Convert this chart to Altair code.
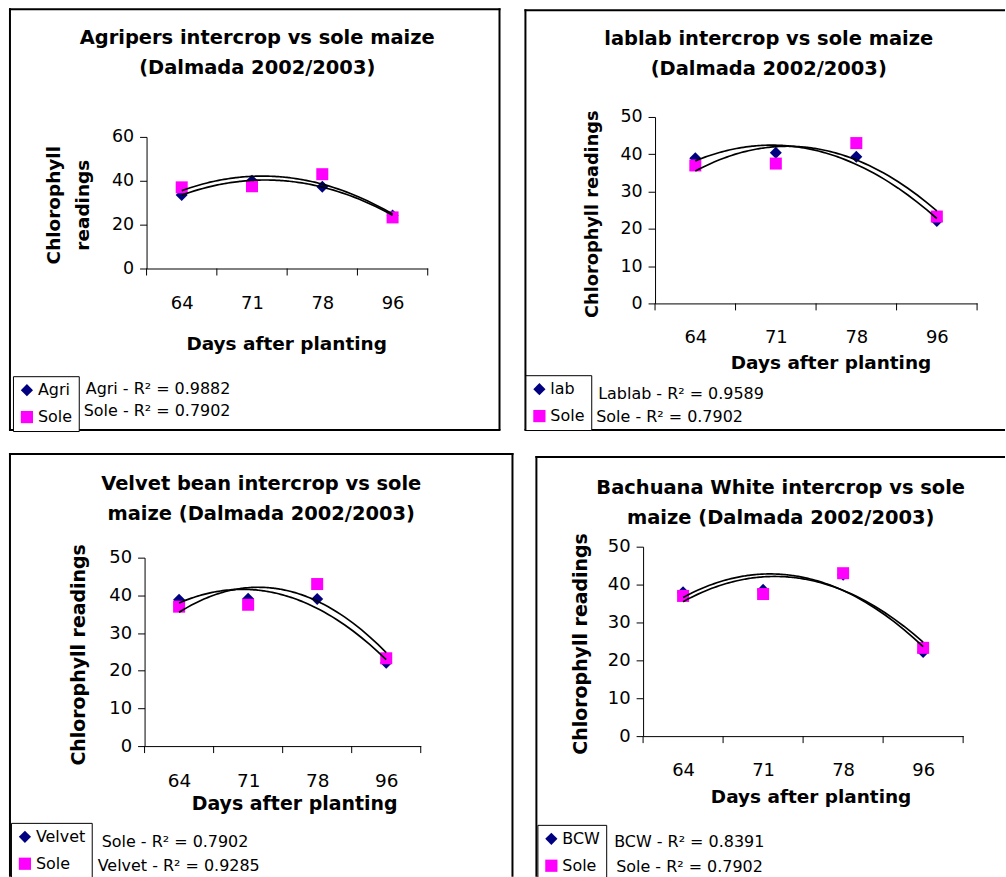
import altair as alt
import pandas as pd

# ---- values -------------------------------------------------------------
days = [64, 71, 78, 96]
sole = [37.0, 37.5, 43.0, 23.3]
agri = [33.5, 40.0, 37.3, 24.2]
lablab = [38.9, 40.4, 39.3, 22.1]
velvet = [38.8, 39.1, 39.0, 22.1]
bcw = [38.0, 38.6, 42.6, 22.2]

titles = [
    ["Agripers intercrop vs sole maize", "(Dalmada 2002/2003)"],
    ["lablab intercrop vs sole maize", "(Dalmada 2002/2003)"],
    ["Velvet bean intercrop vs sole", "maize (Dalmada 2002/2003)"],
    ["Bachuana White intercrop vs sole", "maize (Dalmada 2002/2003)"],
]
series_names = ["Agri", "lab", "Velvet", "BCW"]
series_values = [agri, lablab, velvet, bcw]
r2_names = [["Agri", "Sole"], ["Lablab", "Sole"], ["Sole", "Velvet"], ["BCW", "Sole"]]
r2_values = [[0.9882, 0.7902], [0.9589, 0.7902], [0.7902, 0.9285], [0.8391, 0.7902]]
y_max = [60, 50, 50, 50]
y_step = [20, 10, 10, 10]

NAVY = "#000080"
MAGENTA = "#FF00FF"
ONE = alt.Data(values=[{}])

# ---- per-panel geometry (pixels inside each grid cell) ------------------
layout = [
    dict(w=517, h=446, box=dict(l=1, t=1, r=492, b=423),
         xr=[138, 420], yr=[261, 129], xoff=-185, yoff=-138,
         xlp=40, xlab=18, ylab=17.5,
         xt=dict(x=278, y=81, size=18.5), yt=dict(x=-87, y=197, size=18.5, two=True),
         tt=dict(x=249, y=[36, 66], size=19.5),
         leg=dict(x=4, y=369), r2=[(77, 387), (75, 409)]),
    dict(w=481, h=446, box=dict(l=1, t=2, r=None, b=423),
         xr=[131, 454], yr=[296, 109], xoff=-150, yoff=-131,
         xlp=39, xlab=18, ylab=17.5,
         xt=dict(x=307, y=65, size=18.5), yt=dict(x=-58, y=206, size=17.8, two=False),
         tt=dict(x=245, y=[37, 67], size=19.5),
         leg=dict(x=1, y=368), r2=[(74, 392), (72, 415)]),
    dict(w=517, h=425, box=dict(l=1, t=1, r=505, b=None),
         xr=[136, 413], yr=[294, 105], xoff=-131, yoff=-136,
         xlp=41, xlab=18.5, ylab=18,
         xt=dict(x=286, y=64, size=19), yt=dict(x=-60, y=202, size=19, two=False),
         tt=dict(x=253, y=[37, 67], size=19.5),
         leg=dict(x=2, y=371), r2=[(93, 395), (89, 419)]),
    dict(w=481, h=425, box=dict(l=12, t=4, r=None, b=None),
         xr=[119, 440], yr=[284, 94], xoff=-141, yoff=-119,
         xlp=39, xlab=18, ylab=18,
         xt=dict(x=287, y=67, size=18.5), yt=dict(x=-57, y=191, size=19, two=False),
         tt=dict(x=257, y=[41, 71], size=19.5),
         leg=dict(x=13, y=373), r2=[(90, 395), (92, 420)]),
]


def text_mark(txt, x, y, size, bold=False, align="left"):
    return alt.Chart(ONE).mark_text(
        text=txt, align=align, baseline="alphabetic", fontSize=size,
        fontWeight="bold" if bold else "normal", color="black"
    ).encode(x=alt.value(x), y=alt.value(y))


def hline(x1, x2, y):
    return alt.Chart(ONE).mark_rule(color="black", strokeWidth=2).encode(
        x=alt.value(x1), x2=alt.value(x2), y=alt.value(y))


def vline(x, y1, y2):
    return alt.Chart(ONE).mark_rule(color="black", strokeWidth=2).encode(
        x=alt.value(x), y=alt.value(y1), y2=alt.value(y2))


def panel(k):
    g = layout[k]
    name = series_names[k]
    n = len(days)

    rows = [{"idx": i + 1, "value": v, "series": name} for i, v in enumerate(series_values[k])]
    rows += [{"idx": i + 1, "value": v, "series": "Sole"} for i, v in enumerate(sole)]
    df = pd.DataFrame(rows)
    edges = pd.DataFrame({"edge": [i + 0.5 for i in range(n + 1)]})

    xscale = alt.Scale(domain=[0.5, n + 0.5], range=g["xr"], nice=False, zero=False)
    yscale = alt.Scale(domain=[0, y_max[k]], range=g["yr"], nice=False, zero=True)

    label_expr = "[" + ",".join("'%d'" % d for d in days) + "][datum.value - 1]"
    xaxis = alt.Axis(
        values=list(range(1, n + 1)), labelExpr=label_expr, ticks=False, tickSize=0,
        grid=False, domainColor="black", domainWidth=1, labelBaseline="alphabetic",
        labelPadding=g["xlp"], labelFontSize=g["xlab"], labelColor="black",
        labelFlush=False, labelOverlap=False, labelAngle=0, offset=g["xoff"],
        title="Days after planting", titleX=g["xt"]["x"], titleY=g["xt"]["y"],
        titleAlign="center", titleBaseline="alphabetic", titleFontSize=g["xt"]["size"],
        titleFontWeight="bold", titleColor="black",
    )
    ytitle = ["Chlorophyll", "readings"] if g["yt"]["two"] else "Chlorophyll readings"
    yaxis = alt.Axis(
        values=list(range(0, y_max[k] + 1, y_step[k])), tickSize=7, tickColor="black",
        domainColor="black", grid=False, labelFontSize=g["ylab"], labelPadding=6,
        labelColor="black", offset=g["yoff"],
        title=ytitle, titleAngle=270, titleX=g["yt"]["x"], titleY=g["yt"]["y"],
        titleAlign="center", titleBaseline="alphabetic", titleFontSize=g["yt"]["size"],
        titleFontWeight="bold", titleColor="black", titleLineHeight=29,
    )

    legend = alt.Legend(
        title=None, orient="none", legendX=g["leg"]["x"], legendY=g["leg"]["y"],
        strokeColor="black", fillColor="white", padding=6, rowPadding=11,
        labelFontSize=16, labelColor="black", labelOffset=3, symbolSize=150,
        symbolStrokeWidth=0, symbolOpacity=1,
    )
    color = alt.Color("series:N", sort=[name, "Sole"],
                      scale=alt.Scale(domain=[name, "Sole"], range=[NAVY, MAGENTA]),
                      legend=legend)
    shape = alt.Shape("series:N", sort=[name, "Sole"],
                      scale=alt.Scale(domain=[name, "Sole"], range=["diamond", "square"]),
                      legend=legend)

    x_idx = alt.X("idx:Q", scale=xscale, axis=xaxis)
    y_val = alt.Y("value:Q", scale=yscale, axis=yaxis)

    ticks = alt.Chart(edges).mark_rule(color="black", strokeWidth=1).encode(
        x=alt.X("edge:Q", scale=xscale, axis=xaxis),
        y=alt.value(g["yr"][0]), y2=alt.value(g["yr"][0] + 7),
    )
    points = alt.Chart(df).mark_point(filled=True, opacity=1, size=145, strokeWidth=0).encode(
        x=x_idx, y=y_val, color=color, shape=shape,
    )
    trend = alt.Chart(df).transform_regression(
        "idx", "value", groupby=["series"], method="poly", order=2
    ).mark_line(color="black", strokeWidth=1.7).encode(
        x=x_idx, y=y_val, detail="series:N",
    )

    layers = [ticks, points, trend]

    # chart title, two lines
    for line, yy in zip(titles[k], g["tt"]["y"]):
        layers.append(text_mark(line, g["tt"]["x"], yy, g["tt"]["size"], bold=True, align="center"))

    # R-squared notes for the trendlines
    for nm, r2, (xx, yy) in zip(r2_names[k], r2_values[k], g["r2"]):
        layers.append(text_mark("%s - R\u00b2 = %.4f" % (nm, r2), xx, yy, 16))

    # frame around the panel
    b = g["box"]
    right = b["r"] if b["r"] is not None else g["w"]
    bottom = b["b"] if b["b"] is not None else g["h"]
    layers.append(hline(b["l"] - 1, right + 1, b["t"]))
    layers.append(vline(b["l"], b["t"] - 1, bottom))
    if b["r"] is not None:
        layers.append(vline(b["r"], b["t"] - 1, bottom))
    if b["b"] is not None:
        layers.append(hline(b["l"] - 1, right + 1, b["b"]))

    return alt.layer(*layers).properties(width=g["w"], height=g["h"])


chart = alt.concat(
    panel(0), panel(1), panel(2), panel(3),
    columns=2, spacing=0, bounds="flush",
).resolve_scale(
    color="independent", shape="independent",
).resolve_legend(
    color="independent", shape="independent",
).properties(
    padding={"left": 8, "top": 6, "right": 0, "bottom": 0},
    background="white",
).configure(
    font="DejaVu Sans",
).configure_view(
    strokeWidth=0,
)

chart.save("out.html", embed_options={"renderer": "svg", "actions": False})
